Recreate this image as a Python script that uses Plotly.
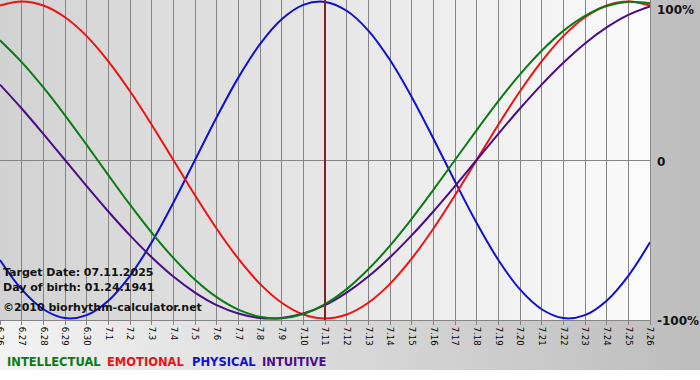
import base64
import plotly.graph_objects as go

# ---------------- data ----------------
dates = ["6.26", "6.27", "6.28", "6.29", "6.30",
         "7.1", "7.2", "7.3", "7.4", "7.5", "7.6", "7.7", "7.8", "7.9", "7.10",
         "7.11", "7.12", "7.13", "7.14", "7.15", "7.16", "7.17", "7.18", "7.19",
         "7.20", "7.21", "7.22", "7.23", "7.24", "7.25", "7.26"]

intellectual = [75.6, 61.8, 45.8, 28.2, 9.5, -9.5, -28.2, -45.8, -61.8, -75.6,
                -86.6, -94.5, -99.0, -99.9, -97.2, -91.0, -81.5, -69.0, -54.1,
                -37.2, -18.9, 0.0, 18.9, 37.2, 54.1, 69.0, 81.5, 91.0, 97.2,
                99.9, 99.0]
emotional = [97.5, 100.0, 97.5, 90.1, 78.2, 62.3, 43.4, 22.3, 0.0, -22.3,
             -43.4, -62.3, -78.2, -90.1, -97.5, -100.0, -97.5, -90.1, -78.2,
             -62.3, -43.4, -22.3, 0.0, 22.3, 43.4, 62.3, 78.2, 90.1, 97.5,
             100.0, 97.5]
physical = [-63.1, -81.7, -94.2, -99.8, -97.9, -88.8, -73.1, -52.0, -27.0,
            0.0, 27.0, 52.0, 73.1, 88.8, 97.9, 99.8, 94.2, 81.7, 63.1, 39.8,
            13.6, -13.6, -39.8, -63.1, -81.7, -94.2, -99.8, -97.9, -88.8,
            -73.1, -52.0]
intuitive = [47.6, 32.5, 16.5, 0.0, -16.5, -32.5, -47.6, -61.4, -73.6, -83.7,
             -91.6, -96.9, -99.7, -99.7, -96.9, -91.6, -83.7, -73.6, -61.4,
             -47.6, -32.5, -16.5, 0.0, 16.5, 32.5, 47.6, 61.4, 73.6, 83.7,
             91.6, 96.9]

target_date = "7.11"
y_tick_vals = [100, 0, -100]
y_tick_text = ["100%", "0", "-100%"]
info_lines = ["Target Date: 07.11.2025", "Day of birth: 01.24.1941",
              "\u00a92010 biorhythm-calculator.net"]
legend_names = ["INTELLECTUAL", "EMOTIONAL", "PHYSICAL", "INTUITIVE"]

# ---------------- style ----------------
W, H = 700, 380
ML, MR, MT, MB = 0, 50, 0, 60
PW, PH = W - ML - MR, H - MT - MB
C_INT, C_EMO, C_PHY, C_ITU = "#0a7a14", "#ee1111", "#1010d0", "#4b0d86"
FONT = "DejaVu Sans"


def grad_uri(c_left, c_right):
    svg = ('<svg xmlns="http://www.w3.org/2000/svg" width="100" height="100" '
           'viewBox="0 0 100 100" preserveAspectRatio="none">'
           '<defs><linearGradient id="g" x1="0" y1="0" x2="1" y2="0">'
           f'<stop offset="0" stop-color="{c_left}"/>'
           f'<stop offset="1" stop-color="{c_right}"/>'
           '</linearGradient></defs>'
           '<rect x="0" y="0" width="100" height="100" fill="url(#g)"/></svg>')
    return "data:image/svg+xml;base64," + base64.b64encode(svg.encode()).decode()


fig = go.Figure()
for name, vals, col in [("PHYSICAL", physical, C_PHY),
                        ("EMOTIONAL", emotional, C_EMO),
                        ("INTUITIVE", intuitive, C_ITU),
                        ("INTELLECTUAL", intellectual, C_INT)]:
    fig.add_trace(go.Scatter(x=dates, y=vals, mode="lines", name=name,
                             line=dict(color=col, width=2, shape="spline",
                                       smoothing=1.0),
                             hoverinfo="skip"))

tidx = dates.index(target_date)
fig.add_shape(type="line", xref="x", yref="paper", x0=tidx, x1=tidx, y0=0, y1=1,
              line=dict(color="#842222", width=2), layer="above")

annotations = []
for v, t in zip(y_tick_vals, y_tick_text):
    anchor = "top" if v == max(y_tick_vals) else "middle"
    shift = 1 if v == max(y_tick_vals) else (-2 if v == 0 else -3)
    annotations.append(dict(x=1, xref="paper", y=v, yref="y", text=t,
                            xanchor="left", yanchor=anchor, xshift=5, yshift=shift,
                            showarrow=False,
                            font=dict(family=FONT, size=12, color="#111111",
                                      weight="bold")))
for txt, py in zip(info_lines, [272, 287, 307]):
    annotations.append(dict(x=1 / PW, xref="paper", y=1 - py / PH, yref="paper",
                            text=txt, xanchor="left", yanchor="middle",
                            showarrow=False,
                            font=dict(family=FONT, size=11, color="#111111",
                                      weight="bold")))
for txt, col, px in zip(legend_names, [C_INT, C_EMO, C_PHY, C_ITU],
                        [5, 105, 190, 260]):
    annotations.append(dict(x=px / PW, xref="paper", y=1 - 362 / PH, yref="paper",
                            text=txt, xanchor="left", yanchor="middle",
                            showarrow=False,
                            font=dict(family=FONT, size=11.5, color=col,
                                      weight="bold")))

fig.update_layout(
    width=W, height=H,
    margin=dict(l=ML, r=MR, t=MT, b=MB, pad=0, autoexpand=False),
    paper_bgcolor="white", plot_bgcolor="rgba(0,0,0,0)",
    showlegend=False,
    annotations=annotations,
    images=[
        dict(source=grad_uri("#f3f3f3", "#bdbdbd"), xref="paper", yref="paper",
             x=0, y=1, sizex=W / PW, sizey=370 / PH, xanchor="left",
             yanchor="top", sizing="stretch", layer="below"),
        dict(source=grad_uri("#d2d2d2", "#fbfbfb"), xref="paper", yref="paper",
             x=0, y=1, sizex=1, sizey=1, xanchor="left", yanchor="top",
             sizing="stretch", layer="below"),
    ],
    xaxis=dict(type="category", range=[0, len(dates) - 1], automargin=False,
               showgrid=True, gridcolor="#858585", gridwidth=1,
               showline=True, linecolor="#858585", linewidth=1,
               ticks="outside", ticklen=4, tickcolor="#858585",
               tickangle=90, tickfont=dict(family=FONT, size=8.5, color="#000000"),
               zeroline=False, fixedrange=True),
    yaxis=dict(range=[-101, 101], side="right", showgrid=False, automargin=False,
               showticklabels=False, ticks="",
               zeroline=True, zerolinecolor="#858585", zerolinewidth=1,
               showline=True, linecolor="#858585", linewidth=1,
               fixedrange=True),
)

fig.write_html("out.html", config={"displayModeBar": False},
               post_script="document.body.style.margin='0';")
